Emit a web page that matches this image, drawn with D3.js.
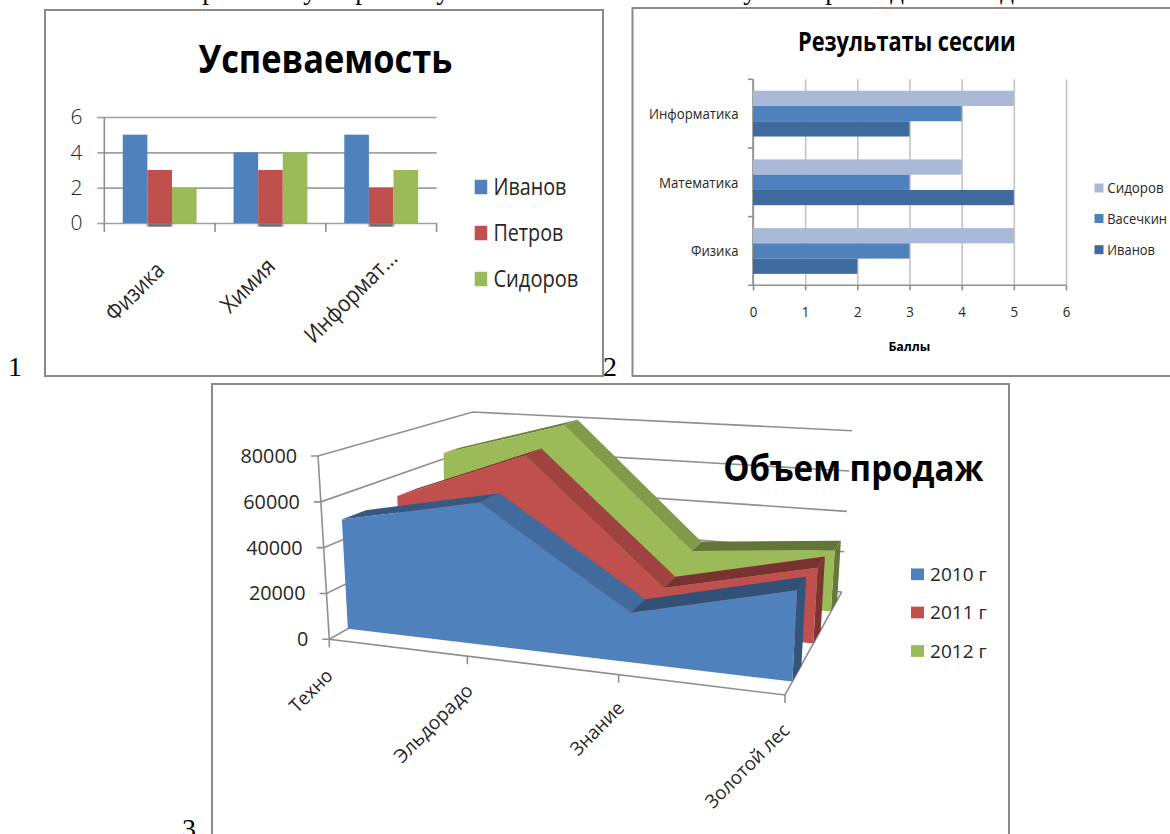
<!DOCTYPE html>
<html>
<head>
<meta charset="utf-8">
<script src="https://cdn.jsdelivr.net/npm/d3@7"></script>
<style>
	html, body { margin: 0; padding: 0; background: #fff; overflow: hidden; }
	svg { display: block; }
	text { font-family: "Open Sans", sans-serif; fill: #262626; }
	.title { fill: #000; }
	.frame { fill: none; stroke: #8a8a8a; stroke-width: 2; }
	.grid line { stroke: #a0a0a0; stroke-width: 1.6; }
	.grid path { display: none; }
	.axisline { stroke: #8f8f8f; stroke-width: 1.6; fill: none; }
	.page { font-family: "Liberation Serif", serif; fill: #000; }
</style>
</head>
<body>
<div id="charts"></div>
<script>
var WIDTH = 1170;
var HEIGHT = 834;

// chart 1
var subjects1 = ['Физика', 'Химия', 'Информат...'];
var students1 = ['Иванов', 'Петров', 'Сидоров'];
var ivanov1 = [5, 4, 5];
var petrov1 = [3, 3, 2];
var sidorov1 = [2, 4, 3];
var ticks1 = [0, 2, 4, 6];

// chart 2
var subjects2 = ['Физика', 'Математика', 'Информатика'];
var students2 = ['Сидоров', 'Васечкин', 'Иванов'];
var sidorov2 = [5, 4, 5];
var vasechkin2 = [3, 3, 4];
var ivanov2 = [2, 5, 3];
var ticks2 = [0, 1, 2, 3, 4, 5, 6];

// chart 3
var shops3 = ['Техно', 'Эльдорадо', 'Знание', 'Золотой лес'];
var years3 = ['2010 г', '2011 г', '2012 г'];
var sales2010 = [49000, 62000, 21000, 37500];
var sales2011 = [50000, 74000, 18000, 33500];
var sales2012 = [63000, 81000, 23000, 29000];
var ticks3 = [0, 20000, 40000, 60000, 80000];

var officeColors = ['#4f81bd', '#c0504d', '#9bbb59'];
var blueColors = ['#aab9d8', '#4f81bd', '#3f6a9e'];

function makeSVG() {
	return d3.select('#charts').append('svg')
		.attr('width', WIDTH)
		.attr('height', HEIGHT);
}

// text stretched to the measured width, the originals are in a narrower face
function addText(g, str, x, y, size, length, weight, anchor) {
	return g.append('text')
		.attr('x', x)
		.attr('y', y)
		.attr('dy', '.35em')
		.attr('font-size', size)
		.attr('font-weight', weight || 400)
		.attr('text-anchor', anchor || 'start')
		.attr('textLength', length)
		.attr('lengthAdjust', 'spacingAndGlyphs')
		.text(str);
}

function addRotated(g, str, x, y, size, length) {
	return g.append('text')
		.attr('transform', 'translate(' + x + ',' + y + ') rotate(-45)')
		.attr('dy', '.35em')
		.attr('font-size', size)
		.attr('text-anchor', 'end')
		.attr('textLength', length)
		.attr('lengthAdjust', 'spacingAndGlyphs')
		.text(str);
}

function addLegend(g, names, colors, x, centers, box, textX, size, lengths) {
	names.forEach(function(name, i) {
		g.append('rect')
			.attr('x', x)
			.attr('y', centers[i] - box[1]/2)
			.attr('width', box[0])
			.attr('height', box[1])
			.attr('fill', colors[i]);
		addText(g, name, textX, centers[i], size, lengths[i]);
	});
}

function drawPage(svg) {
	svg.append('rect').attr('class', 'frame').attr('x', 45).attr('y', 10).attr('width', 558).attr('height', 366);
	svg.append('path').attr('class', 'frame').attr('d', 'M1172,8 H632.5 V376 H1172');
	svg.append('path').attr('class', 'frame').attr('d', 'M212,836 V384 H1009 V836');

	// tails of the line of text cut off above the pictures
	var tails = [[209, 'р'], [310, 'у'], [362, 'р'], [443, 'у'], [750, 'у'], [832, 'р'], [897, 'д'], [1007, 'д']];
	tails.forEach(function(t) {
		svg.append('text').attr('class', 'page').attr('x', t[0]).attr('y', -1)
			.attr('font-size', 27).attr('text-anchor', 'middle').text(t[1]);
	});

	var numbers = [[8, 376, '1'], [603, 376, '2'], [182, 838, '3']];
	numbers.forEach(function(n) {
		svg.append('text').attr('class', 'page').attr('x', n[0]).attr('y', n[1])
			.attr('font-size', 28).text(n[2]);
	});
}

function drawColumns(svg) {
	var left = 104.3, right = 436.6, top = 117, bottom = 223;
	var series = [ivanov1, petrov1, sidorov1];
	var g = svg.append('g');

	var x = d3.scaleBand().domain(subjects1).range([left, right]).paddingInner(1/3).paddingOuter(1/6);
	var inner = d3.scaleBand().domain(students1).range([0, x.bandwidth()]);
	var y = d3.scaleLinear().domain([0, 6]).range([bottom, top]);

	g.append('g').attr('class', 'grid')
		.attr('transform', 'translate(' + left + ',0)')
		.call(d3.axisLeft(y).tickValues(ticks1).tickFormat(d3.format('d')).tickSize(-(right - left)).tickPadding(21.8))
		.call(function(a) {
			a.selectAll('text').attr('font-size', 21).attr('font-weight', 300);
			a.selectAll('.tick').append('line').attr('x1', -7).attr('x2', 0);
		});

	g.append('line').attr('class', 'axisline').attr('x1', left).attr('x2', left).attr('y1', top).attr('y2', bottom + 9);
	subjects1.forEach(function(s, i) {
		var edge = left + (i + 1)*x.step();
		g.append('line').attr('class', 'axisline').attr('x1', edge).attr('x2', edge).attr('y1', bottom).attr('y2', bottom + 9);
	});

	// smudge under the red columns
	var defs = svg.append('defs');
	defs.append('filter').attr('id', 'smudge').append('feGaussianBlur').attr('stdDeviation', 1.2);
	subjects1.forEach(function(s) {
		g.append('rect')
			.attr('x', x(s) + inner(students1[1]))
			.attr('y', bottom + 1)
			.attr('width', inner.bandwidth())
			.attr('height', 2.5)
			.attr('fill', '#333')
			.attr('filter', 'url(#smudge)');
	});

	series.forEach(function(values, k) {
		g.append('g').selectAll('rect').data(values).join('rect')
			.attr('x', function(d, i) { return x(subjects1[i]) + inner(students1[k]); })
			.attr('y', function(d) { return y(d); })
			.attr('width', inner.bandwidth())
			.attr('height', function(d) { return bottom - y(d); })
			.attr('fill', officeColors[k]);
	});

	addText(g, 'Успеваемость', 198.4, 59, 40, 254, 700).attr('class', 'title');
	addLegend(g, students1, officeColors, 474.7, [187, 233, 279], [12.5, 14.5], 493.4, 23, [73, 70, 85]);

	var lengths = [72, 66, 120];
	var ends = [160, 271, 393];
	var tops = [266, 262, 254];
	subjects1.forEach(function(s, i) {
		addRotated(g, s, ends[i], tops[i], 23, lengths[i]);
	});
}

function drawBars(svg) {
	var left = 753, right = 1066, top = 79.3, bottom = 285.3;
	var series = [sidorov2, vasechkin2, ivanov2];
	var g = svg.append('g');

	var x = d3.scaleLinear().domain([0, 6]).range([left, right]);
	var y = d3.scaleBand().domain(subjects2).range([bottom, top]).paddingInner(1/3).paddingOuter(1/6);
	var inner = d3.scaleBand().domain(students2).range([0, y.bandwidth()]);

	g.append('g').attr('class', 'grid')
		.attr('transform', 'translate(0,' + bottom + ')')
		.call(d3.axisBottom(x).tickValues(ticks2).tickFormat(d3.format('d')).tickSize(-(bottom - top)).tickPadding(20.6))
		.call(function(a) {
			a.selectAll('line').attr('stroke-width', 1.8).style('stroke', '#c4c4c4');
			a.selectAll('text').attr('font-size', 15).attr('textLength', 7.6).attr('lengthAdjust', 'spacingAndGlyphs');
			a.selectAll('.tick').append('line').attr('y1', 0).attr('y2', 5).style('stroke', '#8a8a8a');
		});

	g.append('line').attr('class', 'axisline').attr('x1', left).attr('x2', left).attr('y1', top).attr('y2', bottom);
	g.append('line').attr('class', 'axisline').attr('x1', left - 5).attr('x2', right).attr('y1', bottom).attr('y2', bottom);
	[0, 1, 2].forEach(function(i) {
		var edge = top + i*y.step();
		g.append('line').attr('class', 'axisline').attr('x1', left - 5).attr('x2', left).attr('y1', edge).attr('y2', edge);
	});

	series.forEach(function(values, k) {
		g.append('g').selectAll('rect').data(values).join('rect')
			.attr('x', left)
			.attr('y', function(d, i) { return y(subjects2[i]) + inner(students2[k]); })
			.attr('width', function(d) { return x(d) - left; })
			.attr('height', inner.bandwidth())
			.attr('fill', blueColors[k]);
	});

	var lengths = [47.5, 79.6, 89.5];
	subjects2.forEach(function(s, i) {
		addText(g, s, 738.5, y(s) + y.bandwidth()/2, 15, lengths[i], 400, 'end');
	});

	addText(g, 'Результаты сессии', 798, 41.7, 27, 217.6, 700).attr('class', 'title');
	addText(g, 'Баллы', 888.4, 346.7, 13, 42, 700).attr('class', 'title');
	addLegend(g, students2, blueColors, 1094.5, [188, 218.5, 249.7], [9, 9], 1107.3, 15, [56.3, 59.7, 47.7]);
}

function drawAreas(svg) {
	var series = [sales2010, sales2011, sales2012];
	var g = svg.append('g');

	// corners of the box: floor at value 0, then the same corners at value 80000
	var box = {
		floor: [[329.3, 639.3], [785, 695], [472, 559], [841.7, 592]],
		roof: [[318, 456], [795, 495], [472.7, 412], [852, 430.7]]
	};
	var perspective = 1.15;
	// front and back of each ribbon, as a share of the floor's depth
	var depths = [[0.13, 0.29], [0.5, 0.63], [0.81, 0.92]];
	var topShade = [0.68, 0.83, 0.63];

	var x = d3.scalePoint().domain(shops3).range([0, 1]);
	var y = d3.scaleLinear().domain([0, 80000]).range([0, 1]);

	function lerp(a, b, t) {
		return [a[0] + (b[0] - a[0])*t, a[1] + (b[1] - a[1])*t];
	}

	function project(u, value, z) {
		var w = u/(u + perspective*(1 - u));
		var low = lerp(lerp(box.floor[0], box.floor[1], w), lerp(box.floor[2], box.floor[3], w), z);
		var high = lerp(lerp(box.roof[0], box.roof[1], w), lerp(box.roof[2], box.roof[3], w), z);
		return lerp(low, high, y(value));
	}

	function shade(color, k) {
		var c = d3.rgb(color);
		return d3.rgb(c.r*k, c.g*k, c.b*k).formatHex();
	}

	var line = d3.line();

	ticks3.forEach(function(v) {
		var a = project(0, v, 0);
		g.append('path').attr('class', 'axisline')
			.attr('d', line([[a[0] - 7, a[1]], a, project(0, v, 1), project(1, v, 1)]));
		addText(g, d3.format('d')(v), a[0] - 21, a[1], 20, String(v).length*11.3, 400, 'end');
	});
	g.append('path').attr('class', 'axisline').attr('d', line([project(0, 80000, 0), project(0, 0, 0), project(1, 0, 0), project(1, 0, 1)]));

	shops3.forEach(function(s) {
		var a = project(x(s), 0, 0);
		g.append('line').attr('class', 'axisline')
			.attr('x1', a[0]).attr('x2', a[0]).attr('y1', a[1]).attr('y2', a[1] + 8);
	});

	// back ribbon first so the nearer ones cover it
	[2, 1, 0].forEach(function(k) {
		var values = series[k];
		var front = depths[k][0], back = depths[k][1];
		var color = officeColors[k];

		d3.pairs(values.map(function(v, i) { return {s: shops3[i], v: v}; })).forEach(function(p, i) {
			g.append('path')
				.attr('d', line([
					project(x(p[0].s), p[0].v, front), project(x(p[1].s), p[1].v, front),
					project(x(p[1].s), p[1].v, back), project(x(p[0].s), p[0].v, back)
				]) + 'Z')
				.attr('fill', shade(color, topShade[i]));
		});

		var last = values[values.length - 1];
		g.append('path')
			.attr('d', line([project(1, 0, front), project(1, last, front), project(1, last, back), project(1, 0, back)]) + 'Z')
			.attr('fill', shade(color, 0.65));

		var outline = values.map(function(v, i) { return project(x(shops3[i]), v, front); });
		outline.push(project(1, 0, front));
		outline.push(project(0, 0, front));
		g.append('path').attr('d', line(outline) + 'Z').attr('fill', color);
	});

	var lengths = [52, 102, 67, 110];
	var offsets = [[4, 33], [6, 31], [6, 30], [5, 32]];
	shops3.forEach(function(s, i) {
		var a = project(x(s), 0, 0);
		addRotated(g, s, a[0] + offsets[i][0] - 4, a[1] + offsets[i][1], 19, lengths[i]);
	});

	addText(g, 'Объем продаж', 723.3, 468, 36, 260, 700).attr('class', 'title');
	addLegend(g, years3, officeColors, 911, [574.3, 612.5, 651], [13, 11.7], 930, 19, [56.7, 56.7, 56.7]);
}

var svg = makeSVG();
drawPage(svg);
drawColumns(svg);
drawBars(svg);
drawAreas(svg);
</script>
</body>
</html>
